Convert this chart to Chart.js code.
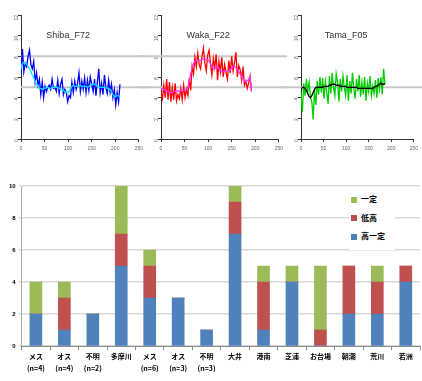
<!DOCTYPE html>
<html>
<head>
<meta charset="utf-8">
<script src="https://cdn.jsdelivr.net/npm/chart.js@4.4.0/dist/chart.umd.min.js"></script>
<style>
body { margin: 0; background: #fff; width: 422px; height: 381px; position: relative; overflow: hidden; }
.box { position: absolute; }
#w1 { left: 0; top: 0; width: 147px; height: 160px; }
#w2 { left: 140px; top: 0; width: 147px; height: 160px; }
#w3 { left: 280px; top: 0; width: 142px; height: 160px; }
#wb { left: 0; top: 160px; width: 422px; height: 221px; }
#legend { position: absolute; left: 349px; top: 190px; width: 44px; background: #fff; padding: 2px 0 2px 2px;
  font: bold 8px "Noto Sans CJK JP", sans-serif; color: #000; }
#legend div { height: 18.5px; line-height: 13px; }
#legend span { display: inline-block; width: 6px; height: 6px; margin-right: 4px; vertical-align: -0.5px; }
</style>
</head>
<body>
<div class="box" id="w1"><canvas id="c1"></canvas></div>
<div class="box" id="w2"><canvas id="c2"></canvas></div>
<div class="box" id="w3"><canvas id="c3"></canvas></div>
<div class="box" id="wb"><canvas id="cb"></canvas></div>
<div id="legend"></div>
<script>
// --- top: depth traces (sample every 3 units on x) ---
var step = 3;
var shibaRaw = [6.3,8.7,6.5,7.3,7.0,8.0,8.6,7.2,6.8,7.5,5.5,6.4,5.2,5.8,4.3,5.5,4.0,5.1,4.6,5.0,5.2,4.8,5.8,4.9,5.0,4.6,5.7,4.4,5.3,5.8,4.3,4.8,4.5,3.6,4.2,4.0,5.5,4.5,5.6,4.8,5.4,6.4,4.6,5.6,4.8,5.9,4.5,5.7,4.7,6.0,5.3,4.6,5.8,4.2,5.5,6.8,4.5,5.4,4.3,6.2,5.0,4.4,5.7,4.5,5.3,4.0,4.8,3.3,4.5,3.6,5.3];
var shibaSmooth = [6.8,7.3,7.4,7.4,7.2,7.0,6.8,6.5,6.2,5.9,5.6,5.3,5.1,4.9,4.9,4.8,4.9,4.9,5.0,5.0,4.9,4.9,5.0,5.0,5.0,5.0,5.0,4.9,4.8,4.8,4.7,4.6,4.5,4.5,4.6,4.8,5.1,5.2,5.1,5.1,5.1,5.1,5.2,5.1,5.1,5.1,5.1,5.0,5.1,5.2,5.3,5.4,5.3,5.2,5.1,5.1,5.0,5.0,5.0,5.0,5.0,4.9,4.9,4.8,4.6,4.3,4.1,4.1,4.2,4.2,4.0];
var wakaRaw = [4.5,3.9,5.2,4.0,5.8,3.8,5.5,3.6,5.0,3.8,5.4,3.7,4.3,3.9,4.9,3.8,5.2,4.0,4.8,4.2,5.9,4.7,7.0,6.3,7.9,7.0,8.3,7.2,6.8,8.0,8.8,7.4,6.6,8.1,8.6,7.3,6.2,7.8,6.9,8.2,5.7,7.5,6.5,7.9,6.0,7.2,6.4,5.8,7.6,6.4,8.0,6.6,7.4,8.4,6.0,7.1,6.7,5.7,7.0,5.2,5.6,4.9,5.4,6.1,4.6];
var wakaSmooth = [4.8,4.9,4.8,4.7,4.6,4.6,4.5,4.5,4.5,4.6,4.6,4.6,4.7,4.6,4.7,4.7,4.7,4.8,4.8,5.0,5.6,6.3,7.0,7.3,7.5,7.6,7.6,7.6,7.6,7.7,7.7,7.7,7.7,7.7,7.5,7.3,7.0,6.8,6.8,7.0,7.0,6.8,6.6,6.5,6.5,6.6,6.6,6.6,6.6,6.7,6.9,7.0,7.0,6.9,6.7,6.5,6.3,6.0,5.8,5.6,5.5,5.6,5.8,6.0,4.6];
var tamaRaw = [4.5,2.6,5.4,4.2,5.8,4.6,5.5,4.0,3.6,1.9,4.8,3.3,5.6,4.3,6.0,4.5,5.9,3.9,5.6,4.6,3.4,6.1,4.4,6.4,5.0,4.2,6.3,5.5,3.6,5.8,4.6,6.1,5.0,4.2,6.2,3.7,5.6,4.4,6.4,4.9,3.9,5.8,4.6,6.2,4.1,5.5,4.3,6.0,3.7,5.4,4.6,6.1,4.2,5.1,4.4,5.7,4.0,5.9,4.8,6.0,4.3,6.8,5.3];
var tamaSmooth = [4.7,5.0,5.0,4.9,4.7,4.4,4.1,4.0,4.2,4.5,4.8,5.0,5.0,5.0,5.0,5.0,5.0,5.1,5.1,5.1,5.1,5.2,5.2,5.3,5.3,5.3,5.2,5.2,5.2,5.1,5.1,5.1,5.1,5.1,5.0,5.0,5.0,5.0,5.0,5.0,5.0,5.0,4.9,4.9,4.9,4.9,4.9,4.9,4.9,4.9,4.9,4.9,4.9,4.9,5.0,5.1,5.1,5.2,5.3,5.4,5.3,5.3,5.3];
var refLevels = [8, 5];

// --- bottom: counts per site ---
var siteLabels = [['メス','(n=4)'],['オス','(n=4)'],['不明','(n=2)'],'多摩川',['メス','(n=6)'],['オス','(n=3)'],['不明','(n=3)'],'大井','港南','芝浦','お台場','朝潮','荒川','若洲'];
var highFlat = [2,1,2,5,3,3,1,7,1,4,0,2,2,4];
var lowHigh  = [0,2,0,2,2,0,0,2,3,0,1,3,2,1];
var flat     = [2,1,0,3,1,0,0,1,1,1,4,0,1,0];

function pts(arr) {
  return arr.map(function(v, i) { return {x: i * step, y: v}; });
}

var nameLabel = {
  id: 'nameLabel',
  afterDatasetsDraw: function(chart, args, opts) {
    var ctx = chart.ctx;
    ctx.save();
    ctx.font = '9px "Liberation Sans", Arial, sans-serif';
    ctx.fillStyle = '#333';
    ctx.textAlign = 'center';
    ctx.textBaseline = 'middle';
    ctx.fillText(opts.text, chart.scales.x.getPixelForValue(100), chart.scales.y.getPixelForValue(10));
    ctx.restore();
  }
};

function trace(id, name, raw, smooth, rawColor, smoothColor, refs, refFrom) {
  var sets = refs.map(function(lv) {
    return {data: [{x: refFrom, y: lv}, {x: 270, y: lv}], borderColor: '#c8c8c8', borderWidth: 2, clip: false, order: 3};
  });
  sets.push({data: pts(raw), borderColor: rawColor, borderWidth: 1.3, order: 2});
  sets.push({data: pts(smooth), borderColor: smoothColor, borderWidth: 1.3, order: 1});
  var tickFont = {size: 5, family: '"Liberation Sans", Arial, sans-serif'};
  new Chart(id, {
    type: 'line',
    data: {datasets: sets},
    options: {
      responsive: true,
      maintainAspectRatio: false,
      animation: false,
      layout: {padding: {top: 15, right: 2, left: 10, bottom: 4}},
      elements: {point: {radius: 0}, line: {tension: 0}},
      plugins: {legend: {display: false}, tooltip: {enabled: false}, nameLabel: {text: name}},
      scales: {
        x: {type: 'linear', min: 0, max: 250,
            ticks: {stepSize: 50, font: tickFont, color: '#666', maxRotation: 0, padding: 4},
            grid: {drawOnChartArea: false, tickLength: 3, color: '#333'},
            border: {color: '#333', width: 1}},
        y: {min: 0, max: 12,
            ticks: {stepSize: 2, font: tickFont, color: '#666', minRotation: 90, maxRotation: 90, padding: 1},
            grid: {drawOnChartArea: false, tickLength: 3, color: '#333'},
            border: {color: '#333', width: 1}}
      }
    },
    plugins: [nameLabel]
  });
}

trace('c1', 'Shiba_F72', shibaRaw, shibaSmooth, '#0000ff', '#00e5ff', refLevels, 0);
trace('c2', 'Waka_F22', wakaRaw, wakaSmooth, '#ff0000', '#ff33ff', refLevels, -45);
trace('c3', 'Tama_F05', tamaRaw, tamaSmooth, '#00cc00', '#000000', [5], -45);

var series = [
  {label: '高一定', data: highFlat, color: '#4f81bd'},
  {label: '低高', data: lowHigh, color: '#c0504d'},
  {label: '一定', data: flat, color: '#9bbb59'}
];

new Chart('cb', {
  type: 'bar',
  data: {
    labels: siteLabels,
    datasets: series.map(function(s) {
      return {label: s.label, data: s.data, backgroundColor: s.color, barThickness: 12};
    })
  },
  options: {
    responsive: true,
    maintainAspectRatio: false,
    animation: false,
    layout: {padding: {top: 26, right: 2, left: 6, bottom: 7}},
    plugins: {legend: {display: false}, tooltip: {enabled: false}},
    scales: {
      x: {stacked: true,
          ticks: {font: {size: 7, weight: 'bold', family: '"Noto Sans CJK JP", sans-serif', lineHeight: 1.7}, color: '#000', padding: 0, maxRotation: 0, autoSkip: false},
          grid: {offset: true, drawOnChartArea: false, tickLength: 4, color: '#888'},
          border: {color: '#888', width: 1}},
      y: {stacked: true, min: 0, max: 10,
          ticks: {stepSize: 2, font: {size: 6, weight: 'bold', family: '"Liberation Sans", Arial, sans-serif'}, color: '#000', padding: 3},
          grid: {color: '#d9d9d9', lineWidth: 1.5, tickLength: 3},
          border: {color: '#aaa', width: 1}}
    }
  }
});

// legend (top item = top of stack)
var lg = document.getElementById('legend');
series.slice().reverse().forEach(function(s) {
  var row = document.createElement('div');
  row.innerHTML = '<span style="background:' + s.color + '"></span>' + s.label;
  lg.appendChild(row);
});
</script>
</body>
</html>
